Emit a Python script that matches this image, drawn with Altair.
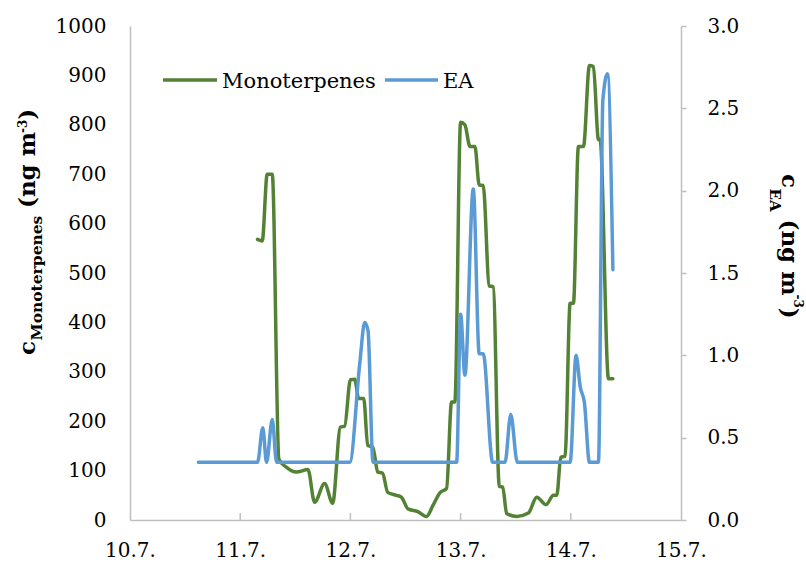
import altair as alt
import pandas as pd

# ---------------- data ----------------
# day of July (10 -> "10.7.")
mono_day = [11.157, 11.200, 11.245, 11.291, 11.351, 11.418, 11.509, 11.615, 11.675, 11.766,
            11.839, 11.909, 11.948, 12.000, 12.039, 12.075, 12.121, 12.157, 12.203, 12.248,
            12.291, 12.339, 12.418, 12.464, 12.521, 12.612, 12.691, 12.748, 12.812, 12.873,
            12.918, 12.948, 13.000, 13.039, 13.085, 13.130, 13.169, 13.205, 13.260, 13.296,
            13.351, 13.382, 13.418, 13.509, 13.615, 13.691, 13.775, 13.842, 13.873, 13.909,
            13.948, 13.994, 14.024, 14.069, 14.115, 14.169, 14.205, 14.251, 14.266, 14.342,
            14.382]
mono_val = [568, 565, 700, 700, 123, 107, 97, 102, 36, 74,
            34, 188, 190, 284, 285, 246, 246, 151, 148, 97,
            95, 56, 50, 46, 23, 17, 7, 29, 55, 64,
            239, 239, 805, 800, 756, 756, 678, 677, 474, 472,
            68, 67, 13, 7, 14, 46, 31, 50, 50, 127,
            129, 439, 439, 756, 756, 920, 918, 770, 770, 286,
            286]

ea_day = [10.621, 11.157, 11.205, 11.239, 11.291, 11.330, 11.994, 12.085, 12.130, 12.160,
          12.205, 12.964, 13.000, 13.039, 13.115, 13.169, 13.205, 13.291, 13.403, 13.455,
          13.515, 13.994, 14.048, 14.085, 14.124, 14.169, 14.251, 14.291, 14.333, 14.382]
ea_val = [0.35, 0.35, 0.56, 0.35, 0.61, 0.35, 0.35, 0.95, 1.20, 1.15,
          0.35, 0.35, 1.25, 0.88, 2.01, 1.01, 1.01, 0.35, 0.35, 0.64,
          0.35, 0.35, 1.00, 0.81, 0.71, 0.35, 0.35, 2.55, 2.71, 1.52]

x_ticks = [10, 11, 12, 13, 14, 15]
inner_ticks = [11, 12, 13, 14]
left_ticks = [0, 100, 200, 300, 400, 500, 600, 700, 800, 900, 1000]
right_ticks = [0.0, 0.5, 1.0, 1.5, 2.0, 2.5, 3.0]

series_names = ["Monoterpenes", "EA"]

# ---------------- style ----------------
W, H = 551, 494
PAD = {"left": 130, "top": 26, "right": 125, "bottom": 43}
GREEN = "#548235"
BLUE = "#5B9BD5"
GRAY = "#BFBFBF"
FONT = "DejaVu Serif"
TICK_FS = 20

mono = pd.DataFrame({"day": mono_day, "mono": mono_val})
ea = pd.DataFrame({"day": ea_day, "ea": ea_val})
one = pd.DataFrame({"k": [0]})

x_scale = alt.Scale(domain=[10, 15], nice=False, zero=False)
x_axis = alt.Axis(values=x_ticks, labelExpr="datum.value + '.7.'", title=None, grid=False,
                  ticks=False, tickSize=0, labelPadding=20, labelFlush=False,
                  domainColor=GRAY, domainWidth=1.5, labelFont=FONT, labelFontSize=TICK_FS,
                  labelColor="black", labelOverlap=False)

green = alt.Chart(mono).mark_line(color=GREEN, strokeWidth=3.5, interpolate="monotone",
                                  strokeJoin="round", strokeCap="round").encode(
    x=alt.X("day:Q", scale=x_scale, axis=x_axis),
    y=alt.Y("mono:Q", scale=alt.Scale(domain=[0, 1000], nice=False),
            axis=alt.Axis(orient="left", values=left_ticks, format="d", title=None,
                          grid=False, ticks=False, tickSize=0, labelPadding=24,
                          labelFlush=False, domainColor=GRAY, domainWidth=1.5,
                          labelFont=FONT, labelFontSize=TICK_FS, labelColor="black")),
)

blue = alt.Chart(ea).mark_line(color=BLUE, strokeWidth=3.5, interpolate="monotone",
                               strokeJoin="round", strokeCap="round").encode(
    x=alt.X("day:Q", scale=x_scale, axis=x_axis),
    y=alt.Y("ea:Q", scale=alt.Scale(domain=[0, 3], nice=False),
            axis=alt.Axis(orient="right", values=right_ticks, format=".1f", title=None,
                          grid=False, ticks=True, tickSize=5, tickColor=GRAY, tickWidth=1.5,
                          labelPadding=21, labelFlush=False, domainColor=GRAY,
                          domainWidth=1.5, labelFont=FONT, labelFontSize=TICK_FS,
                          labelColor="black")),
)

# x tick marks pointing inward (upward)
xticks = alt.Chart(pd.DataFrame({"day": inner_ticks})).mark_rule(
    color=GRAY, strokeWidth=1.5).encode(
    x=alt.X("day:Q", scale=x_scale, axis=x_axis),
    y=alt.value(H - 7), y2=alt.value(H))


def txt(text, x, y, size, angle=0, bold=True):
    return alt.Chart(one).mark_text(
        text=text, font=FONT, fontSize=size, fontWeight="bold" if bold else "normal",
        angle=angle, align="left", baseline="alphabetic", color="black"
    ).encode(x=alt.value(x), y=alt.value(y))


OX, OY = PAD["left"], PAD["top"]
# left axis title: c_Monoterpenes (ng m^-3), reading upward
left_title = [
    txt("c", 35 - OX, 355 - OY, 23, 270),
    txt("Monoterpenes", 42 - OX, 340.5 - OY, 15.5, 270),
    txt("(ng m", 35 - OX, 208 - OY, 23, 270),
    txt("-3", 27 - OX, 133 - OY, 12, 270),
    txt(")", 35 - OX, 119.7 - OY, 23, 270),
]
# right axis title: c_EA (ng m^-3), reading downward
right_title = [
    txt("c", 782 - OX, 174 - OY, 23, 90),
    txt("EA", 770 - OX, 188.5 - OY, 15, 90),
    txt("(ng m", 782 - OX, 219.5 - OY, 23, 90),
    txt("-3", 794 - OX, 294.5 - OY, 12, 90),
    txt(")", 782 - OX, 307.8 - OY, 23, 90),
]

# legend
leg = [
    alt.Chart(one).mark_rule(color=GREEN, strokeWidth=3.5).encode(
        x=alt.value(163 - OX), x2=alt.value(217 - OX), y=alt.value(80 - OY)),
    txt(series_names[0], 222 - OX, 88 - OY, 21, 0, bold=False),
    alt.Chart(one).mark_rule(color=BLUE, strokeWidth=3.5).encode(
        x=alt.value(385 - OX), x2=alt.value(438 - OX), y=alt.value(80 - OY)),
    txt(series_names[1], 443 - OX, 88 - OY, 21, 0, bold=False),
]

chart = alt.layer(green, blue, xticks, *left_title, *right_title, *leg).resolve_scale(
    y="independent"
).properties(
    width=W, height=H, padding=PAD, autosize=alt.AutoSizeParams(type="none"),
    background="white"
).configure_view(stroke=None)

chart.save("out.html", embed_options={"renderer": "svg", "actions": False})
